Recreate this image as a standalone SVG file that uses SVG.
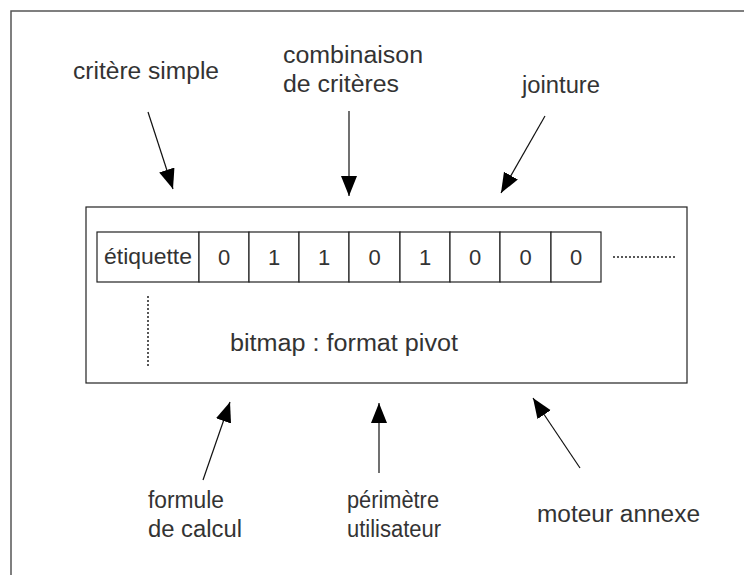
<svg xmlns="http://www.w3.org/2000/svg" width="744" height="575" viewBox="0 0 744 575">
<style>
text{font-family:"Liberation Sans",Arial,sans-serif;fill:#333;}
.lbl{font-size:23.5px;}
.cell{font-size:22px;text-anchor:middle;}
.box{fill:#fff;stroke:#222;stroke-width:1.2;}
.conn{stroke:#111;stroke-width:1.2;fill:none;marker-end:url(#ah);}
.dot{stroke:#222;stroke-width:1.5;stroke-dasharray:2 2;fill:none;}
</style>
<defs>
<marker id="ah" markerUnits="userSpaceOnUse" markerWidth="22" markerHeight="18" refX="20" refY="8" orient="auto">
<path d="M0,0 L20,8 L0,16 z" fill="#000"/>
</marker>
</defs>
<rect x="11" y="11" width="800" height="600" fill="#fff" stroke="#555" stroke-width="1.5"/>
<g id="bitmap">
<rect class="box" x="86" y="207" width="601" height="176"/>
<text class="lbl" x="230" y="351" textLength="228" lengthAdjust="spacingAndGlyphs">bitmap : format pivot</text>
<path class="dot" d="M148,296 V368"/>
<path class="dot" d="M613,257 H677"/>
</g>
<g id="cells">
<rect class="box" x="97" y="232" width="102" height="50"/>
<text class="cell" x="148" y="264" textLength="88" lengthAdjust="spacingAndGlyphs">étiquette</text>
<rect class="box" x="199" y="232" width="50" height="50"/><text class="cell" x="224" y="265">0</text>
<rect class="box" x="249" y="232" width="50" height="50"/><text class="cell" x="274" y="265">1</text>
<rect class="box" x="299" y="232" width="50" height="50"/><text class="cell" x="324" y="265">1</text>
<rect class="box" x="349" y="232" width="51" height="50"/><text class="cell" x="374.5" y="265">0</text>
<rect class="box" x="400" y="232" width="50" height="50"/><text class="cell" x="425" y="265">1</text>
<rect class="box" x="450" y="232" width="50" height="50"/><text class="cell" x="475" y="265">0</text>
<rect class="box" x="500" y="232" width="51" height="50"/><text class="cell" x="525.5" y="265">0</text>
<rect class="box" x="551" y="232" width="50" height="50"/><text class="cell" x="576" y="265">0</text>
</g>
<g id="lbl-critere-simple"><text class="lbl" x="73" y="79" textLength="146" lengthAdjust="spacingAndGlyphs">critère simple</text></g>
<g id="lbl-combinaison"><text class="lbl" x="283" y="63" textLength="140" lengthAdjust="spacingAndGlyphs">combinaison</text><text class="lbl" x="283" y="92" textLength="116" lengthAdjust="spacingAndGlyphs">de critères</text></g>
<g id="lbl-jointure"><text class="lbl" x="522" y="93" textLength="78" lengthAdjust="spacingAndGlyphs">jointure</text></g>
<g id="lbl-formule"><text class="lbl" x="148" y="508" textLength="76" lengthAdjust="spacingAndGlyphs">formule</text><text class="lbl" x="148" y="537" textLength="94" lengthAdjust="spacingAndGlyphs">de calcul</text></g>
<g id="lbl-perimetre"><text class="lbl" x="347" y="508" textLength="92" lengthAdjust="spacingAndGlyphs">périmètre</text><text class="lbl" x="347" y="537" textLength="94" lengthAdjust="spacingAndGlyphs">utilisateur</text></g>
<g id="lbl-moteur"><text class="lbl" x="537" y="522" textLength="163" lengthAdjust="spacingAndGlyphs">moteur annexe</text></g>
<g id="connectors">
<path class="conn" d="M148,112 L173,189"/>
<path class="conn" d="M349,111 L349,196"/>
<path class="conn" d="M545,116 L501,193"/>
<path class="conn" d="M203,480 L230,402"/>
<path class="conn" d="M379,473 L379,403"/>
<path class="conn" d="M580,468 L533,398"/>
</g>
</svg>
